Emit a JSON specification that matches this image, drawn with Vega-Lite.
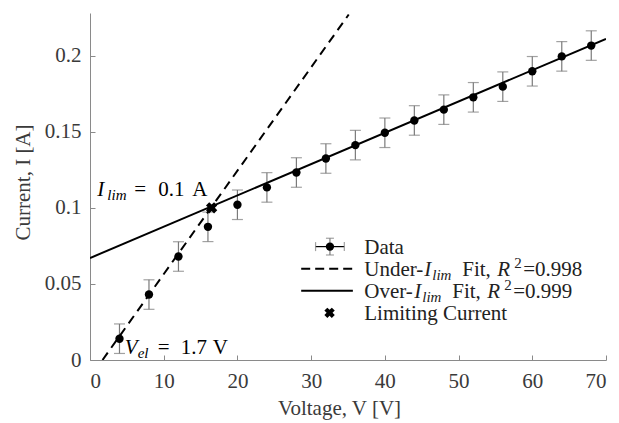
{
  "$schema": "https://vega.github.io/schema/vega-lite/v6.json",
  "autosize": "none",
  "width": 516,
  "height": 347,
  "padding": {"left": 90, "top": 13, "right": 13, "bottom": 63},
  "background": "white",
  "config": {
    "view": {"stroke": null},
    "font": "Liberation Serif",
    "text": {"font": "Liberation Serif"},
    "axis": {
      "labelFont": "Liberation Serif",
      "titleFont": "Liberation Serif",
      "labelFontSize": 21,
      "titleFontSize": 21,
      "titleFontWeight": "normal",
      "labelColor": "#3a3a3a",
      "titleColor": "#3a3a3a",
      "domainColor": "#8a8a8a",
      "tickColor": "#8a8a8a",
      "grid": false,
      "tickSize": -5
    }
  },
  "data": {
    "values": [
      {"V": 4, "I": 0.014, "lo": 0.0043, "hi": 0.0237},
      {"V": 8, "I": 0.043, "lo": 0.0333, "hi": 0.0527},
      {"V": 12, "I": 0.068, "lo": 0.0583, "hi": 0.0777},
      {"V": 16, "I": 0.0875, "lo": 0.0778, "hi": 0.0972},
      {"V": 20, "I": 0.102, "lo": 0.0923, "hi": 0.1117},
      {"V": 24, "I": 0.1134, "lo": 0.1037, "hi": 0.1231},
      {"V": 28, "I": 0.1232, "lo": 0.1135, "hi": 0.1329},
      {"V": 32, "I": 0.1324, "lo": 0.1227, "hi": 0.1421},
      {"V": 36, "I": 0.1412, "lo": 0.1315, "hi": 0.1509},
      {"V": 40, "I": 0.1493, "lo": 0.1396, "hi": 0.159},
      {"V": 44, "I": 0.1574, "lo": 0.1477, "hi": 0.1671},
      {"V": 48, "I": 0.1645, "lo": 0.1548, "hi": 0.1742},
      {"V": 52, "I": 0.1726, "lo": 0.1629, "hi": 0.1823},
      {"V": 56, "I": 0.1796, "lo": 0.1699, "hi": 0.1893},
      {"V": 60, "I": 0.1897, "lo": 0.18, "hi": 0.1994},
      {"V": 64, "I": 0.1995, "lo": 0.1898, "hi": 0.2092},
      {"V": 68, "I": 0.2066, "lo": 0.1969, "hi": 0.2163}
    ]
  },
  "layer": [
    {
      "mark": {"type": "errorbar", "ticks": true, "size": 11, "thickness": 1.2, "color": "#7a7a7a"},
      "encoding": {
        "x": {"field": "V", "type": "quantitative",
          "scale": {"domain": [0, 70], "nice": false, "zero": false},
          "axis": {"values": [0, 10, 20, 30, 40, 50, 60, 70], "title": "Voltage, V [V]", "labelPadding": 15, "titlePadding": 6, "titleX": 249, "format": "~g"}},
        "y": {"field": "lo", "type": "quantitative",
          "scale": {"domain": [0, 0.228], "nice": false, "zero": false},
          "axis": {"values": [0, 0.05, 0.1, 0.15, 0.2], "title": "Current, I [A]", "labelPadding": 14, "titlePadding": 11, "titleY": 169, "format": "~g"}},
        "y2": {"field": "hi"}
      }
    },
    {
      "data": {"values": [{"V": 1.7, "I": 0}, {"V": 35.1, "I": 0.227}]},
      "mark": {"type": "line", "color": "black", "strokeWidth": 2, "strokeDash": [9, 6], "clip": true},
      "encoding": {"x": {"field": "V", "type": "quantitative"}, "y": {"field": "I", "type": "quantitative"}}
    },
    {
      "data": {"values": [{"V": 0, "I": 0.067}, {"V": 70, "I": 0.211}]},
      "mark": {"type": "line", "color": "black", "strokeWidth": 2, "clip": true},
      "encoding": {"x": {"field": "V", "type": "quantitative"}, "y": {"field": "I", "type": "quantitative"}}
    },
    {
      "mark": {"type": "point", "shape": "circle", "filled": true, "color": "black", "size": 70, "opacity": 1},
      "encoding": {"x": {"field": "V", "type": "quantitative"}, "y": {"field": "I", "type": "quantitative"}}
    },
    {
      "data": {"values": [{"V": 16.5, "I": 0.1}]},
      "mark": {"type": "point", "shape": "cross", "angle": 45, "filled": true, "color": "black", "size": 130, "opacity": 1},
      "encoding": {"x": {"field": "V", "type": "quantitative"}, "y": {"field": "I", "type": "quantitative"}}
    },
    {
      "data": {"values": [{}]},
      "layer": [
        {"mark": {"type": "text", "text": "I", "font": "Liberation Serif", "fontStyle": "italic", "fontSize": 21, "align": "left", "baseline": "alphabetic", "color": "black"},
         "encoding": {"x": {"datum": 1.0}, "y": {"datum": 0.108}}},
        {"mark": {"type": "text", "text": "lim", "font": "Liberation Serif", "fontStyle": "italic", "fontSize": 15, "align": "left", "baseline": "alphabetic", "dx": 10, "dy": 4, "color": "black"},
         "encoding": {"x": {"datum": 1.0}, "y": {"datum": 0.108}}},
        {"mark": {"type": "text", "text": "=", "font": "Liberation Serif", "fontSize": 21, "align": "left", "baseline": "alphabetic", "dx": 37, "color": "black"},
         "encoding": {"x": {"datum": 1.0}, "y": {"datum": 0.108}}},
        {"mark": {"type": "text", "text": "0.1", "font": "Liberation Serif", "fontSize": 21, "align": "left", "baseline": "alphabetic", "dx": 61, "color": "black"},
         "encoding": {"x": {"datum": 1.0}, "y": {"datum": 0.108}}},
        {"mark": {"type": "text", "text": "A", "font": "Liberation Serif", "fontSize": 21, "align": "left", "baseline": "alphabetic", "dx": 95, "color": "black"},
         "encoding": {"x": {"datum": 1.0}, "y": {"datum": 0.108}}},
        {"mark": {"type": "text", "text": "V", "font": "Liberation Serif", "fontStyle": "italic", "fontSize": 21, "align": "left", "baseline": "alphabetic", "color": "black"},
         "encoding": {"x": {"datum": 4.7}, "y": {"datum": 0.004}}},
        {"mark": {"type": "text", "text": "el", "font": "Liberation Serif", "fontStyle": "italic", "fontSize": 15, "align": "left", "baseline": "alphabetic", "dx": 13, "dy": 4, "color": "black"},
         "encoding": {"x": {"datum": 4.7}, "y": {"datum": 0.004}}},
        {"mark": {"type": "text", "text": "=", "font": "Liberation Serif", "fontSize": 21, "align": "left", "baseline": "alphabetic", "dx": 33, "color": "black"},
         "encoding": {"x": {"datum": 4.7}, "y": {"datum": 0.004}}},
        {"mark": {"type": "text", "text": "1.7", "font": "Liberation Serif", "fontSize": 21, "align": "left", "baseline": "alphabetic", "dx": 56, "color": "black"},
         "encoding": {"x": {"datum": 4.7}, "y": {"datum": 0.004}}},
        {"mark": {"type": "text", "text": "V", "font": "Liberation Serif", "fontSize": 21, "align": "left", "baseline": "alphabetic", "dx": 88, "color": "black"},
         "encoding": {"x": {"datum": 4.7}, "y": {"datum": 0.004}}}
      ]
    },
    {
      "data": {"values": [{}]},
      "layer": [
        {"mark": {"type": "rule", "color": "black", "strokeWidth": 1.2},
         "encoding": {"x": {"datum": 30.6}, "x2": {"datum": 34.5}, "y": {"datum": 0.0745}}},
        {"mark": {"type": "rule", "color": "#7a7a7a", "strokeWidth": 1.2},
         "encoding": {"x": {"datum": 32.55}, "y": {"datum": 0.069}, "y2": {"datum": 0.08}}},
        {"mark": {"type": "tick", "orient": "horizontal", "color": "#7a7a7a", "size": 8, "thickness": 1.2},
         "encoding": {"x": {"datum": 32.55}, "y": {"datum": 0.069}}},
        {"mark": {"type": "tick", "orient": "horizontal", "color": "#7a7a7a", "size": 8, "thickness": 1.2},
         "encoding": {"x": {"datum": 32.55}, "y": {"datum": 0.08}}},
        {"mark": {"type": "tick", "orient": "vertical", "color": "#7a7a7a", "size": 9, "thickness": 1.2},
         "encoding": {"x": {"datum": 30.6}, "y": {"datum": 0.0745}}},
        {"mark": {"type": "tick", "orient": "vertical", "color": "#7a7a7a", "size": 9, "thickness": 1.2},
         "encoding": {"x": {"datum": 34.5}, "y": {"datum": 0.0745}}},
        {"mark": {"type": "point", "shape": "circle", "filled": true, "color": "black", "size": 70, "opacity": 1},
         "encoding": {"x": {"datum": 32.55}, "y": {"datum": 0.0745}}},
        {"mark": {"type": "rule", "color": "black", "strokeWidth": 2, "strokeDash": [9, 5]},
         "encoding": {"x": {"datum": 28.65}, "x2": {"datum": 35.66}, "y": {"datum": 0.06}}},
        {"mark": {"type": "rule", "color": "black", "strokeWidth": 2},
         "encoding": {"x": {"datum": 28.65}, "x2": {"datum": 35.66}, "y": {"datum": 0.0455}}},
        {"mark": {"type": "point", "shape": "cross", "angle": 45, "filled": true, "color": "black", "size": 110, "opacity": 1},
         "encoding": {"x": {"datum": 32.5}, "y": {"datum": 0.031}}},
        {"mark": {"type": "text", "text": "Data", "font": "Liberation Serif", "fontSize": 21, "align": "left", "baseline": "alphabetic", "dy": 7, "color": "#222"},
         "encoding": {"x": {"datum": 37.2}, "y": {"datum": 0.0745}}},
        {"mark": {"type": "text", "text": "Under-", "font": "Liberation Serif", "fontSize": 21, "align": "left", "baseline": "alphabetic", "dy": 7, "color": "#222"},
         "encoding": {"x": {"datum": 37.2}, "y": {"datum": 0.06}}},
        {"mark": {"type": "text", "text": "I", "font": "Liberation Serif", "fontStyle": "italic", "fontSize": 21, "align": "left", "baseline": "alphabetic", "dx": 60, "dy": 7, "color": "#222"},
         "encoding": {"x": {"datum": 37.2}, "y": {"datum": 0.06}}},
        {"mark": {"type": "text", "text": "lim", "font": "Liberation Serif", "fontStyle": "italic", "fontSize": 15, "align": "left", "baseline": "alphabetic", "dx": 68, "dy": 11, "color": "#222"},
         "encoding": {"x": {"datum": 37.2}, "y": {"datum": 0.06}}},
        {"mark": {"type": "text", "text": "Fit,", "font": "Liberation Serif", "fontSize": 21, "align": "left", "baseline": "alphabetic", "dx": 98, "dy": 7, "color": "#222"},
         "encoding": {"x": {"datum": 37.2}, "y": {"datum": 0.06}}},
        {"mark": {"type": "text", "text": "R", "font": "Liberation Serif", "fontStyle": "italic", "fontSize": 21, "align": "left", "baseline": "alphabetic", "dx": 133, "dy": 7, "color": "#222"},
         "encoding": {"x": {"datum": 37.2}, "y": {"datum": 0.06}}},
        {"mark": {"type": "text", "text": "2", "font": "Liberation Serif", "fontSize": 15, "align": "left", "baseline": "alphabetic", "dx": 150, "dy": -1, "color": "#222"},
         "encoding": {"x": {"datum": 37.2}, "y": {"datum": 0.06}}},
        {"mark": {"type": "text", "text": "=0.998", "font": "Liberation Serif", "fontSize": 21, "align": "left", "baseline": "alphabetic", "dx": 159, "dy": 7, "color": "#222"},
         "encoding": {"x": {"datum": 37.2}, "y": {"datum": 0.06}}},
        {"mark": {"type": "text", "text": "Over-", "font": "Liberation Serif", "fontSize": 21, "align": "left", "baseline": "alphabetic", "dy": 7, "color": "#222"},
         "encoding": {"x": {"datum": 37.2}, "y": {"datum": 0.0455}}},
        {"mark": {"type": "text", "text": "I", "font": "Liberation Serif", "fontStyle": "italic", "fontSize": 21, "align": "left", "baseline": "alphabetic", "dx": 50, "dy": 7, "color": "#222"},
         "encoding": {"x": {"datum": 37.2}, "y": {"datum": 0.0455}}},
        {"mark": {"type": "text", "text": "lim", "font": "Liberation Serif", "fontStyle": "italic", "fontSize": 15, "align": "left", "baseline": "alphabetic", "dx": 58, "dy": 11, "color": "#222"},
         "encoding": {"x": {"datum": 37.2}, "y": {"datum": 0.0455}}},
        {"mark": {"type": "text", "text": "Fit,", "font": "Liberation Serif", "fontSize": 21, "align": "left", "baseline": "alphabetic", "dx": 88, "dy": 7, "color": "#222"},
         "encoding": {"x": {"datum": 37.2}, "y": {"datum": 0.0455}}},
        {"mark": {"type": "text", "text": "R", "font": "Liberation Serif", "fontStyle": "italic", "fontSize": 21, "align": "left", "baseline": "alphabetic", "dx": 123, "dy": 7, "color": "#222"},
         "encoding": {"x": {"datum": 37.2}, "y": {"datum": 0.0455}}},
        {"mark": {"type": "text", "text": "2", "font": "Liberation Serif", "fontSize": 15, "align": "left", "baseline": "alphabetic", "dx": 140, "dy": -1, "color": "#222"},
         "encoding": {"x": {"datum": 37.2}, "y": {"datum": 0.0455}}},
        {"mark": {"type": "text", "text": "=0.999", "font": "Liberation Serif", "fontSize": 21, "align": "left", "baseline": "alphabetic", "dx": 149, "dy": 7, "color": "#222"},
         "encoding": {"x": {"datum": 37.2}, "y": {"datum": 0.0455}}},
        {"mark": {"type": "text", "text": "Limiting Current", "font": "Liberation Serif", "fontSize": 21, "align": "left", "baseline": "alphabetic", "dy": 7, "color": "#222"},
         "encoding": {"x": {"datum": 37.2}, "y": {"datum": 0.031}}}
      ]
    }
  ]
}
